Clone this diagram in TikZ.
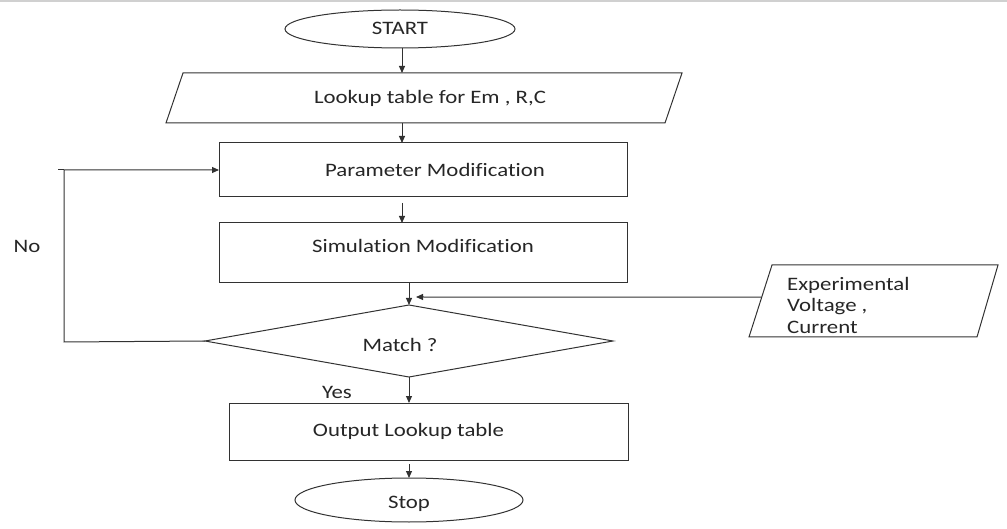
\documentclass[tikz,border=0pt]{standalone}
\usepackage{fontspec}
\setmainfont{Carlito}[FakeStretch=1.2, Ligatures=NoCommon]
\usetikzlibrary{shapes.geometric,arrows.meta,calc}
\definecolor{linecol}{RGB}{50,50,50}
\definecolor{txtcol}{RGB}{38,38,38}
\definecolor{rulegray}{RGB}{208,208,208}
\tikzset{
  base/.style={draw=linecol, line width=1pt, inner sep=0pt, outer sep=0pt,
               text=txtcol, font=\fontsize{19}{21.5}\selectfont},
  term/.style={base, ellipse, minimum width=230pt, minimum height=38pt},
  procbox/.style={base, rectangle},
  decide/.style={base, diamond, minimum width=408pt, minimum height=72pt},
  txt/.style={inner sep=0pt, text=txtcol, font=\fontsize{19}{21.5}\selectfont},
  outline/.style={draw=linecol, line width=1pt, line join=miter},
  flow/.style={draw=linecol, line width=1pt,
               -{Triangle[length=7pt,width=6pt]}},
  wire/.style={draw=linecol, line width=1pt},
}
\begin{document}
\begin{tikzpicture}[x=1pt,y=-1pt]
\useasboundingbox (0,0) rectangle (1007,529);
\fill[rulegray] (0,0) rectangle (1007,2);

% main column
\node[term, label={[txt,yshift=1pt]center:START}] (start) at (400,29) {};

% input parallelogram: lookup table
\coordinate (lookTL) at (183,73);  \coordinate (lookTR) at (682,73);
\coordinate (lookBR) at (665,123); \coordinate (lookBL) at (166,123);
\draw[outline] (lookTL) -- (lookTR) -- (lookBR) -- (lookBL) -- cycle;
\node[txt] (look) at (430,98) {Lookup table for Em , R,C};

\node[procbox, minimum width=408pt, minimum height=54pt,
      label={[txt,xshift=12pt]center:Parameter Modification}] (par) at (423,170) {};
\node[procbox, minimum width=408pt, minimum height=60pt,
      label={[txt,yshift=7pt]center:Simulation Modification}] (sim) at (423,253) {};
\node[decide, label={[txt,xshift=-9pt,yshift=-4pt]center:Match ?}] (dia) at (409,341) {};
\node[procbox, minimum width=399pt, minimum height=57pt,
      label={[txt,xshift=-20pt]center:Output Lookup table}] (out) at (428.5,431.5) {};
\node[term, minimum width=228pt, minimum height=44pt,
      label={[txt,yshift=-4pt]center:Stop}] (stop) at (409,500) {};

% input parallelogram: measured data
\coordinate (expTL) at (772,265);  \coordinate (expTR) at (998,265);
\coordinate (expBR) at (977,337);  \coordinate (expBL) at (749,337);
\draw[outline] (expTL) -- (expTR) -- (expBR) -- (expBL) -- cycle;
\node[txt, anchor=north west, align=left] (exptxt) at (787,277)
  {Experimental\\Voltage ,\\Current};

% branch labels
\node[txt] (nolab) at (27,246) {No};
\node[txt] (yeslab) at (337,392) {Yes};

% connectors
\coordinate (colx) at (402,0);
\draw[flow] (colx |- start.south) -- (colx |- lookTL);
\draw[flow] (colx |- lookBL) -- (colx |- par.north);
\draw[flow] ($(colx |- par.south)+(0,6)$) -- (colx |- sim.north);
\draw[flow] (dia.north |- sim.south) -- (dia.north);
\coordinate (feedsrc) at ($(expBL)!0.555!(expTL)$);
\coordinate (feed) at (416,297);
\draw[flow] (feedsrc) -- (feed);
\coordinate (bend) at (64,342);
\draw[flow] (dia.west) -- (bend) |- (par.west);
\draw[wire] (bend |- par.west) -- ++(-6,0);
\draw[flow] (dia.south) -- (dia.south |- out.north);
\draw[flow] ($(stop.north |- out.south)+(0,4)$) -- (stop.north);
\end{tikzpicture}
\end{document}
